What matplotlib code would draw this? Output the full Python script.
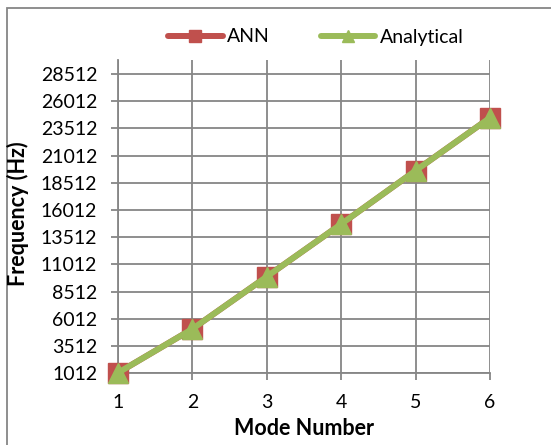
import matplotlib.pyplot as plt
from matplotlib.lines import Line2D
from matplotlib.patches import Rectangle

modes = [1, 2, 3, 4, 5, 6]
ann = [1060, 5090, 9900, 14730, 19640, 24500]
analytical = [1060, 5090, 9900, 14730, 19640, 24500]
y_ticks = [1012, 3512, 6012, 8512, 11012, 13512, 16012, 18512,
           21012, 23512, 26012, 28512]

plt.rcParams['font.family'] = ['Lato', 'DejaVu Sans']
red = '#C0504D'
green = '#9BBB59'
grid_c = '#868686'

W, H = 551, 445
fig = plt.figure(figsize=(W / 100, H / 100), dpi=100)

# chart border
fig.patches.append(Rectangle((7 / W, -0.1), 1.2, 1 - 8 / H + 0.1,
                             transform=fig.transFigure, fill=False,
                             edgecolor=grid_c, linewidth=1.3))

ax = fig.add_axes([118 / W, 1 - 373.3 / H, (490 - 118) / W, (373.3 - 59.5) / H])
ax.set_xlim(1, 6)
ax.set_ylim(1012, 29850)

ax.plot(modes, ann, color=red, lw=4.3, marker='s', ms=14,
        markeredgecolor=red, clip_on=False, zorder=3)
ax.plot(modes, analytical, color=green, lw=4.3, marker='^', ms=15,
        markeredgecolor=green, clip_on=False, zorder=4)

ax.set_xticks(modes)
ax.set_yticks(y_ticks)
ax.set_yticklabels([str(v) for v in y_ticks])
ax.tick_params(labelsize=14, length=5, width=1.3, color=grid_c)
ax.tick_params(axis='y', pad=10)
ax.tick_params(axis='x', pad=10)
ax.grid(True, color=grid_c, lw=1.3)
ax.set_axisbelow(True)
for s in ['top', 'right']:
    ax.spines[s].set_visible(False)
for s in ['left', 'bottom']:
    ax.spines[s].set_color(grid_c)
    ax.spines[s].set_linewidth(1.3)

ax.set_xlabel('Mode Number', fontsize=15.5, fontweight='bold', labelpad=5)
fig.text(18 / W, 1 - 214 / H, 'Frequency (Hz)', rotation=90, fontsize=15.5,
         fontweight='bold', ha='center', va='center')

handles = [Line2D([], [], color=red, lw=4.3, marker='s', ms=8,
                  solid_capstyle='round'),
           Line2D([], [], color=green, lw=4.3, marker='^', ms=8,
                  solid_capstyle='round')]
fig.legend(handles, ['ANN', 'Analytical'], loc='center',
           bbox_to_anchor=(316 / W, 1 - 37 / H), ncol=2, frameon=False,
           fontsize=14, handlelength=2.8, handletextpad=0.25,
           columnspacing=2.6)

fig.savefig('out.png', dpi=100)
